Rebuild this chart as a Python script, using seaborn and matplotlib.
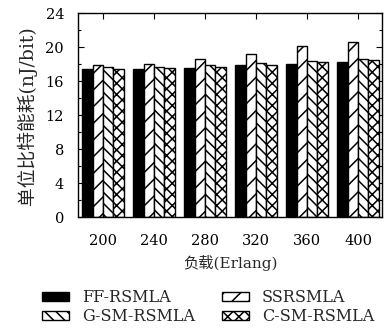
import matplotlib
matplotlib.use("Agg")
import matplotlib.pyplot as plt
from matplotlib.ticker import MultipleLocator
import seaborn as sns
import pandas as pd

loads = ["200", "240", "280", "320", "360", "400"]
ff = [17.45, 17.45, 17.6, 17.85, 18.05, 18.3]
ssr = [17.85, 18.05, 18.65, 19.25, 20.1, 20.6]
gsm = [17.7, 17.7, 17.85, 18.1, 18.4, 18.55]
csm = [17.4, 17.55, 17.7, 17.9, 18.3, 18.45]
series = ["FF-RSMLA", "SSRSMLA", "G-SM-RSMLA", "C-SM-RSMLA"]
hatches = ["", "//", "\\\\\\", "xxx"]
faces = ["black", "white", "white", "white"]

rows = []
for name, vals in zip(series, [ff, ssr, gsm, csm]):
    for l, v in zip(loads, vals):
        rows.append({"load": l, "value": v, "series": name})
df = pd.DataFrame(rows)

sns.set_style("ticks")
plt.rcParams["font.family"] = ["DejaVu Serif", "Noto Sans CJK SC"]
plt.rcParams["hatch.linewidth"] = 1.1
plt.rcParams["axes.unicode_minus"] = False

fig = plt.figure(figsize=(3.89, 3.29), dpi=100)
ax = fig.add_axes([0.2005, 0.340, 0.7815, 0.620])

sns.barplot(data=df, x="load", y="value", hue="series", order=loads,
            hue_order=series, width=0.81, ax=ax, legend=False,
            palette=["black", "white", "white", "white"])

for cont, h, fc in zip(ax.containers, hatches, faces):
    for p in cont:
        p.set_facecolor(fc)
        p.set_edgecolor("black")
        p.set_linewidth(1.0)
        p.set_hatch(h)

ax.set_xlim(-0.49, 5.47)
ax.set_ylim(0, 24)
ax.yaxis.set_major_locator(MultipleLocator(4))
ax.yaxis.set_minor_locator(MultipleLocator(2))
ax.tick_params(which="both", direction="in", top=True, right=True,
               labelsize=10.5, colors="black")
ax.tick_params(which="major", length=4, width=0.8)
ax.tick_params(which="minor", length=2.5, width=0.8)
ax.tick_params(axis="x", pad=12)
ax.tick_params(axis="y", pad=10)
for s in ax.spines.values():
    s.set_color("black")
    s.set_linewidth(1.0)

ax.set_xlabel("负载(Erlang)", fontsize=11, labelpad=5)
ax.set_ylabel("单位比特能耗(nJ/bit)", fontsize=13.5, labelpad=6)

c = ax.containers
fig.legend(handles=[c[0], c[2], c[1], c[3]],
           labels=[series[0], series[2], series[1], series[3]],
           ncol=2, frameon=False, fontsize=11.5, loc="center",
           bbox_to_anchor=(0.535, 0.067), handlelength=1.7, handleheight=0.5,
           columnspacing=1.7, handletextpad=0.8, labelspacing=0.15)

fig.savefig("out.png", dpi=100)
